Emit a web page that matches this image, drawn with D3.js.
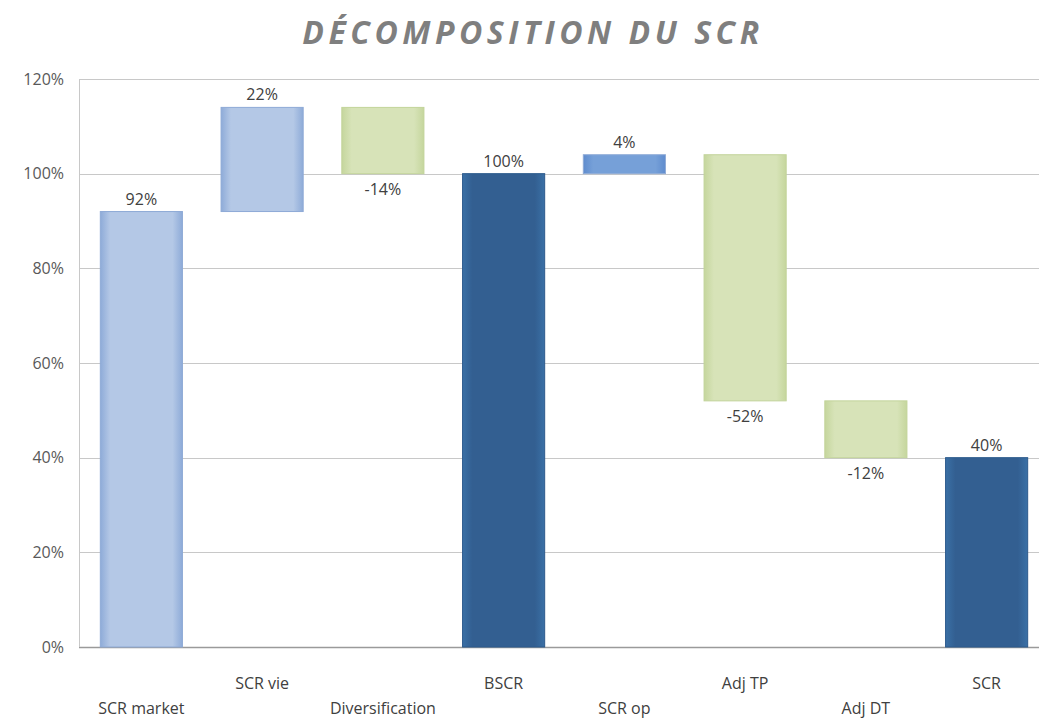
<!DOCTYPE html>
<html>
<head>
<meta charset="utf-8">
<script src="https://cdn.jsdelivr.net/npm/d3@7"></script>
<style>
  body { margin: 0; background: #fff; }
  svg { display: block; }
</style>
</head>
<body>
<div id="chart"></div>
<script>
// data
const categories = ["SCR market", "SCR vie", "Diversification", "BSCR", "SCR op", "Adj TP", "Adj DT", "SCR"];
const values = [92, 22, -14, 100, 4, -52, -12, 40];
const isTotal = [false, false, false, true, false, false, false, true];
const yTicks = [0, 20, 40, 60, 80, 100, 120];

const width = 1039, height = 719;
const margin = { top: 79, right: 0, bottom: 71, left: 81 };

const svg = d3.select("#chart").append("svg")
  .attr("width", width)
  .attr("height", height)
  .style("font-family", "'Open Sans', 'Noto Sans', sans-serif");

// gradients like the excel look
const defs = svg.append("defs");
function grad(id, edge, mid) {
  const g = defs.append("linearGradient").attr("id", id)
    .attr("x1", "0%").attr("x2", "100%").attr("y1", "0%").attr("y2", "0%");
  g.append("stop").attr("offset", "0%").attr("stop-color", edge);
  g.append("stop").attr("offset", "12%").attr("stop-color", mid);
  g.append("stop").attr("offset", "88%").attr("stop-color", mid);
  g.append("stop").attr("offset", "100%").attr("stop-color", edge);
}
grad("gBlue", "#8eabd8", "#b4c8e6");
grad("gGreen", "#c5d69d", "#d7e3b8");
grad("gDark", "#3a70a6", "#335f91");
grad("gMid", "#5f8cce", "#76a0d8");

// running bases
let run = 0;
const bars = categories.map((c, i) => {
  let lo, hi;
  if (isTotal[i]) { lo = 0; hi = values[i]; run = values[i]; }
  else { const s = run; run = run + values[i]; lo = Math.min(s, run); hi = Math.max(s, run); }
  return { cat: c, v: values[i], lo, hi, total: isTotal[i], i };
});

const x = d3.scaleBand()
  .domain(categories)
  .range([margin.left, 1047])
  .paddingInner(0.32)
  .paddingOuter(0.16);

const y = d3.scaleLinear()
  .domain([0, 120])
  .range([height - margin.bottom - 1, margin.top]);

// title
svg.append("text")
  .attr("x", 533)
  .attr("y", 44)
  .attr("text-anchor", "middle")
  .attr("fill", "#7f7f7f")
  .style("font-size", "32px")
  .style("font-weight", "bold")
  .style("font-style", "italic")
  .style("letter-spacing", "4.5px")
  .text("DÉCOMPOSITION DU SCR");

// grid
svg.append("g")
  .selectAll("line")
  .data(yTicks)
  .join("line")
  .attr("x1", margin.left - 2)
  .attr("x2", width)
  .attr("y1", d => Math.round(y(d)) + 0.5)
  .attr("y2", d => Math.round(y(d)) + 0.5)
  .attr("stroke", d => d === 0 ? "#9a9a9a" : "#c8c8c8")
  .attr("stroke-width", d => d === 0 ? 1.5 : 1);

// y axis line
svg.append("line")
  .attr("x1", margin.left - 1.5).attr("x2", margin.left - 1.5)
  .attr("y1", y(120)).attr("y2", y(0))
  .attr("stroke", "#c8c8c8");

const yAxis = d3.axisLeft(y).tickValues(yTicks).tickSize(0).tickFormat(d => d + "%");
svg.append("g")
  .attr("transform", `translate(${margin.left - 14},0)`)
  .call(yAxis)
  .call(g => g.select(".domain").remove())
  .call(g => g.selectAll("text")
    .attr("fill", "#595959")
    .style("font-size", "16px")
    .style("font-family", "'Open Sans', sans-serif"));

// bars
svg.append("g")
  .selectAll("rect")
  .data(bars)
  .join("rect")
  .attr("x", d => x(d.cat))
  .attr("width", x.bandwidth())
  .attr("y", d => y(d.hi))
  .attr("height", d => y(d.lo) - y(d.hi))
  .attr("fill", d => d.total ? "url(#gDark)" : d.v < 0 ? "url(#gGreen)" : d.i === 4 ? "url(#gMid)" : "url(#gBlue)")
  .attr("stroke", d => d.total ? "#2c5a8c" : d.v < 0 ? "#c2d49a" : "#8eaad6")
  .attr("stroke-width", 1);

// value labels
svg.append("g")
  .selectAll("text")
  .data(bars)
  .join("text")
  .attr("x", d => x(d.cat) + x.bandwidth() / 2)
  .attr("y", d => d.v < 0 ? y(d.lo) + 21 : y(d.hi) - 7)
  .attr("text-anchor", "middle")
  .attr("fill", "#404040")
  .style("font-size", "16px")
  .text(d => d.v + "%");

// category labels, staggered
svg.append("g")
  .selectAll("text")
  .data(bars)
  .join("text")
  .attr("x", d => x(d.cat) + x.bandwidth() / 2)
  .attr("y", d => d.i % 2 === 0 ? 714 : 689)
  .attr("text-anchor", "middle")
  .attr("fill", "#404040")
  .style("font-size", "16px")
  .text(d => d.cat);
</script>
</body>
</html>
